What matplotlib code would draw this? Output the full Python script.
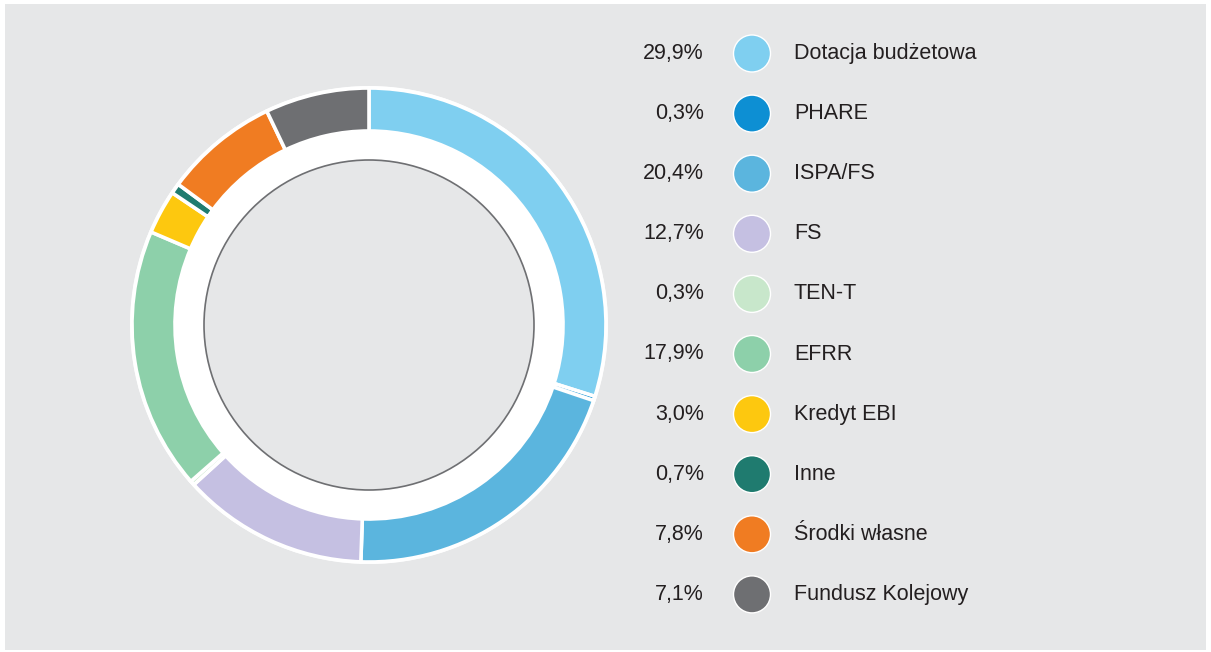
"""Donut chart of financing sources with a side legend of shares."""

import matplotlib

matplotlib.use("Agg")
import matplotlib.pyplot as plt
from matplotlib.patches import Circle, Rectangle

W, H = 1211, 652

labels = ["Dotacja budżetowa", "PHARE", "ISPA/FS", "FS", "TEN-T", "EFRR",
          "Kredyt EBI", "Inne", "Środki własne", "Fundusz Kolejowy"]
shares = [29.9, 0.3, 20.4, 12.7, 0.3, 17.9, 3.0, 0.7, 7.8, 7.1]
pct_text = ["29,9%", "0,3%", "20,4%", "12,7%", "0,3%", "17,9%",
            "3,0%", "0,7%", "7,8%", "7,1%"]
colors = ["#7fcff0", "#0d8fd3", "#5bb5de", "#c5c0e2", "#c8e7cb",
          "#8dd0aa", "#fdc80f", "#1f7b6f", "#f07c22", "#6e6f72"]

BG = "#e6e7e8"
TEXT = "#231f20"
plt.rcParams["font.family"] = ["Liberation Sans", "DejaVu Sans"]


def main():
    fig = plt.figure(figsize=(W / 100, H / 100), dpi=100, facecolor="white")
    ax = fig.add_axes([0, 0, 1, 1])

    # grey panel with a thin white margin
    ax.add_patch(Rectangle((5, H - 650), 1201, 646, facecolor=BG,
                           edgecolor="none", zorder=0))

    cx, cy = 369, H - 325
    r_out, band = 237, 43
    ax.add_patch(Circle((cx, cy), r_out + 2, facecolor="white",
                        edgecolor="none", zorder=1))
    ax.add_patch(Circle((cx, cy), 165, facecolor=BG, edgecolor="#6e6f72",
                        linewidth=1.2, zorder=2))
    wedges, _ = ax.pie(shares, colors=colors, startangle=90, counterclock=False,
                       center=(cx, cy), radius=r_out,
                       wedgeprops=dict(width=band, edgecolor="white", linewidth=2.6))
    for w in wedges:
        w.set_zorder(3)

    # legend column
    for i, (lab, pct, col) in enumerate(zip(labels, pct_text, colors)):
        y = H - (53.5 + i * 60.1)
        ax.text(704, y, pct, ha="right", va="center", fontsize=15.5, color=TEXT)
        ax.add_patch(Circle((752, y), 18.5, facecolor=col, edgecolor="white",
                            linewidth=1.0, zorder=3))
        ax.text(794, y, lab, ha="left", va="center", fontsize=15.5, color=TEXT)

    ax.set_xlim(0, W)
    ax.set_ylim(0, H)
    ax.set_aspect("equal")
    ax.axis("off")
    fig.savefig("out.png", dpi=100, facecolor="white")
    plt.close(fig)


if __name__ == "__main__":
    main()
